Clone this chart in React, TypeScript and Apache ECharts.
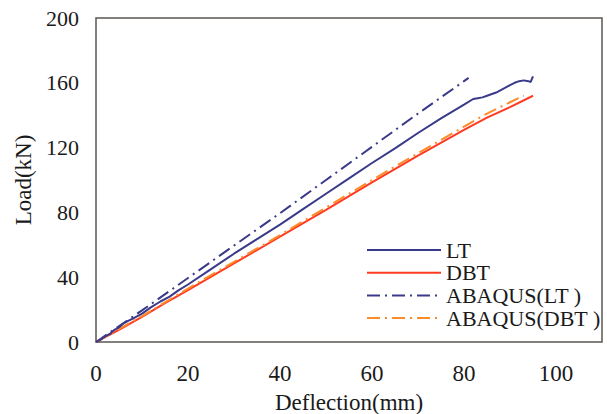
import React, { useEffect, useRef } from "react";
import * as echarts from "echarts";

const seriesNames = ["LT", "DBT", "ABAQUS(LT )", "ABAQUS(DBT )"];

const ltData: number[][] = [
  [0, 0], [1, 1.5], [2, 3.5], [3, 5], [4, 7.5], [5, 9], [6, 11.5], [7, 13], [8, 14.5],
  [9, 16], [10, 17.5], [12, 21.5], [14, 25], [16, 28], [18, 32], [20, 35.5], [25, 45],
  [30, 54.5], [35, 63.5], [40, 72.5], [45, 82], [50, 91.5], [55, 101], [60, 110.5],
  [65, 119.5], [70, 129], [75, 138], [80, 146.5], [82, 150], [83, 150.5], [84, 151],
  [85, 152], [87, 154], [89, 157], [90, 158.5], [91, 160], [92, 161], [93, 161.5],
  [94, 161], [94.5, 160.5], [95, 164],
];

const dbtData: number[][] = [
  [0, 0], [1, 1.5], [2, 3], [5, 7.5], [10, 15.5], [15, 24], [20, 32], [30, 48.5],
  [40, 65], [50, 81.5], [60, 98.5], [70, 115], [80, 131], [85, 138.5], [90, 145],
  [95, 152],
];

const abaqusLtData: number[][] = [
  [0, 0], [10, 19.5], [20, 39.5], [30, 59.5], [40, 79.5], [50, 100], [60, 120.5],
  [70, 141], [80, 161], [81, 163],
];

const abaqusDbtData: number[][] = [
  [0, 0], [10, 16], [20, 33], [30, 49.5], [40, 66], [50, 83], [60, 100], [70, 116.5],
  [80, 133], [85, 141], [90, 148], [93, 152],
];

const xTicks = { min: 0, max: 110, interval: 20 };
const yTicks = { min: 0, max: 200, interval: 40 };

const FONT = "Liberation Serif";

export default function App() {
  const ref = useRef<HTMLDivElement>(null);
  useEffect(() => {
    if (!ref.current) return;
    const chart = echarts.init(ref.current, undefined, { renderer: "svg" });
    const dashDot = [13, 5, 2, 5];
    const mk = (name: string, data: number[][], color: string, dash: any, z: number) => ({
      name,
      type: "line",
      data,
      symbol: "none",
      showSymbol: false,
      z,
      lineStyle: { color, width: 2, type: dash },
      itemStyle: { color },
    });
    chart.setOption({
      animation: false,
      backgroundColor: "#ffffff",
      grid: {
        left: 96,
        top: 18,
        right: 5,
        bottom: 72,
        containLabel: false,
        outerBoundsMode: "none",
        show: true,
        borderColor: "#5a5552",
        borderWidth: 1.5,
        backgroundColor: "transparent",
      },
      legend: {
        orient: "vertical",
        left: 366,
        top: 239,
        padding: 0,
        itemWidth: 74,
        itemHeight: 14,
        itemGap: 0.7,
        itemStyle: { color: "transparent", borderColor: "transparent", borderWidth: 0 },
        textStyle: { fontFamily: FONT, fontSize: 22, color: "#1a1a1a", lineHeight: 21 },
        data: seriesNames,
      },
      xAxis: {
        type: "value",
        min: xTicks.min,
        max: xTicks.max,
        interval: xTicks.interval,
        name: "Deflection(mm)",
        nameLocation: "middle",
        nameGap: 50,
        nameTextStyle: { fontFamily: FONT, fontSize: 23, lineHeight: 20, color: "#1a1a1a" },
        axisLine: { show: false },
        axisTick: { show: false },
        splitLine: { show: false },
        axisLabel: {
          fontFamily: FONT,
          fontSize: 23,
          color: "#1a1a1a",
          margin: 20,
          showMaxLabel: false,
        },
      },
      yAxis: {
        type: "value",
        min: yTicks.min,
        max: yTicks.max,
        interval: yTicks.interval,
        name: "Load(kN)",
        nameLocation: "middle",
        nameGap: 61,
        nameTextStyle: { fontFamily: FONT, fontSize: 23, color: "#1a1a1a" },
        axisLine: { show: false },
        axisTick: { show: false },
        splitLine: { show: false },
        axisLabel: { fontFamily: FONT, fontSize: 22, color: "#1a1a1a", margin: 17 },
      },
      series: [
        mk(seriesNames[0], ltData, "#3a3a8a", "solid", 4),
        mk(seriesNames[1], dbtData, "#ff3a22", "solid", 2),
        mk(seriesNames[2], abaqusLtData, "#3a3a8a", dashDot, 3),
        mk(seriesNames[3], abaqusDbtData, "#ff8a2a", dashDot, 3),
      ],
    });
    return () => chart.dispose();
  }, []);
  return (
    <div
      ref={ref}
      style={{ position: "fixed", left: 0, top: 0, width: 607, height: 414, background: "#fff" }}
    />
  );
}
